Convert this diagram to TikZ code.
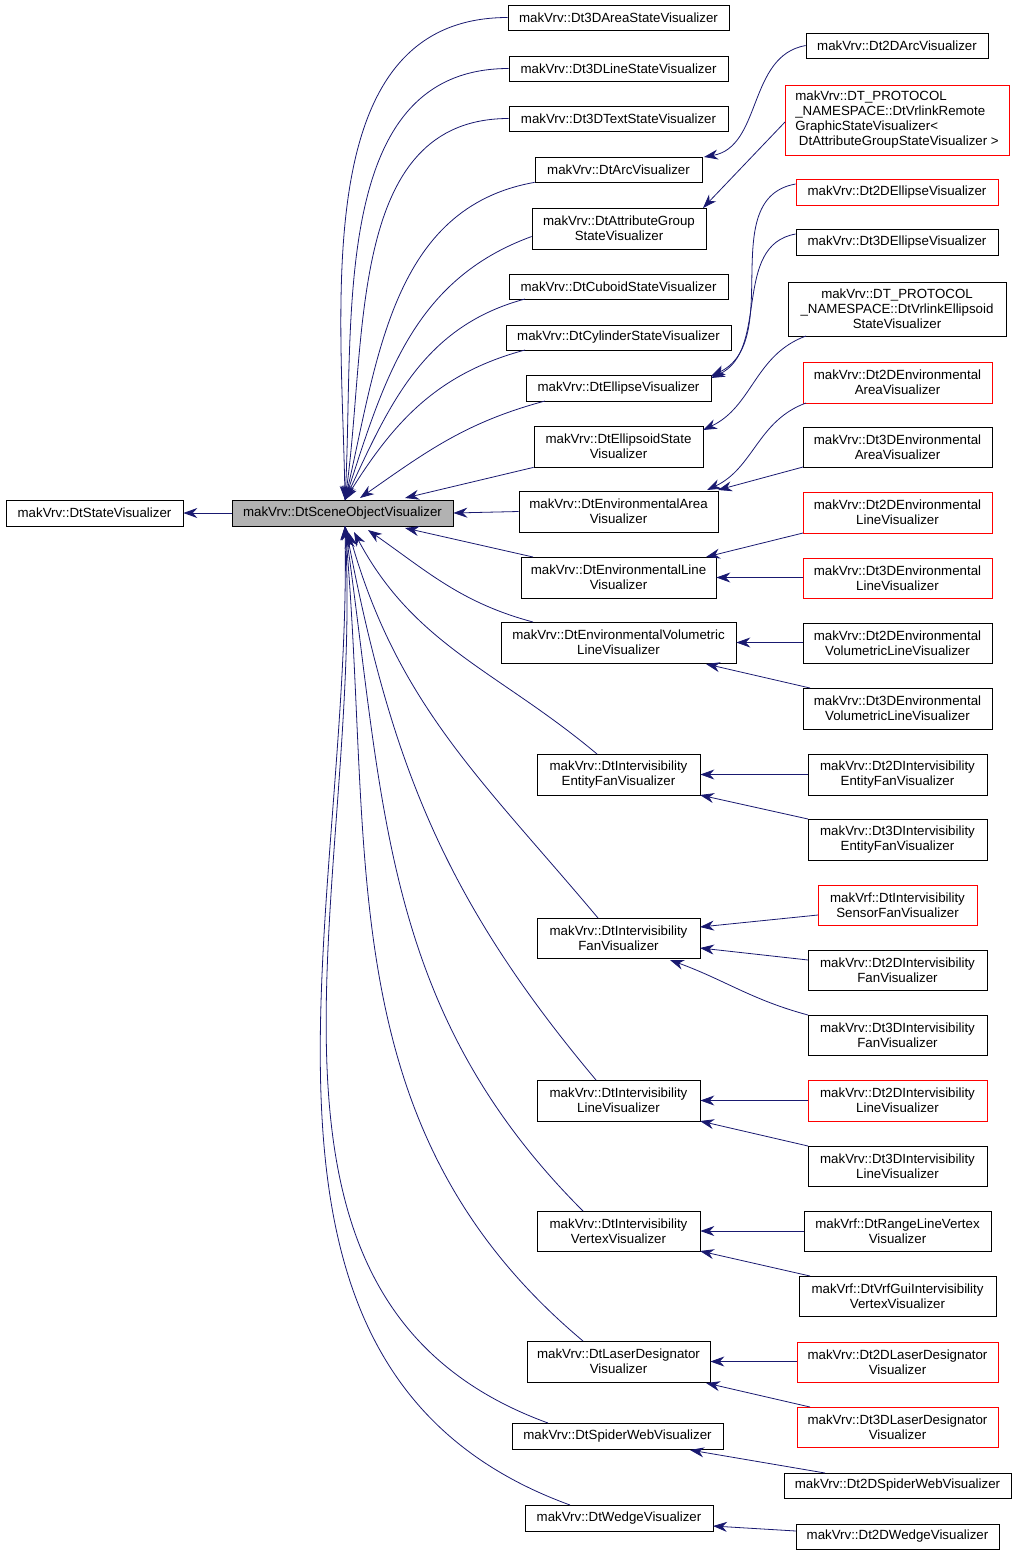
\documentclass[tikz,border=0pt]{standalone}
\usepackage{fontspec}
\setmainfont{Liberation Sans}
\usetikzlibrary{arrows.meta}
\definecolor{edgeblue}{HTML}{191970}
\tikzset{
  cls/.style={draw=black,line width=0.7pt,align=center,inner sep=0pt,font=\fontsize{13.3}{14.8}\selectfont},
  edge/.style={draw=edgeblue,line width=0.8pt,{Stealth[length=14pt,width=10pt]}-}
}
% box from (x1,y1) to (x2,y2) in pixels
\newcommand\cls[7][black]{\node[cls,draw=#1,minimum width={(#5-#3)*1pt},minimum height={(#6-#4)*1pt}] (#2) at ({(#3+#5)/2},{(#4+#6)/2}) {#7};}
\begin{document}
\begin{tikzpicture}[x=1pt,y=-1pt]
\useasboundingbox (0,0) rectangle (1016,1556);
\cls{state}{6}{500}{183}{526}{makVrv::DtStateVisualizer}
\node[cls,fill=black!30,minimum width=221pt,minimum height=26pt] (scene) at (342.5,513) {makVrv::DtSceneObjectVisualizer};
% middle column
\cls{m1}{508}{5}{729}{30}{makVrv::Dt3DAreaStateVisualizer}
\cls{m2}{509}{56}{728}{81}{makVrv::Dt3DLineStateVisualizer}
\cls{m3}{509}{106}{728}{131}{makVrv::Dt3DTextStateVisualizer}
\cls{m4}{535}{157}{702}{182}{makVrv::DtArcVisualizer}
\cls{m5}{532}{208}{706}{249}{makVrv::DtAttributeGroup\\StateVisualizer}
\cls{m6}{509}{274}{728}{299}{makVrv::DtCuboidStateVisualizer}
\cls{m7}{506}{325}{731}{350}{makVrv::DtCylinderStateVisualizer}
\cls{m8}{526}{375}{711}{401}{makVrv::DtEllipseVisualizer}
\cls{m9}{534}{426}{703}{467}{makVrv::DtEllipsoidState\\Visualizer}
\cls{m10}{519}{491}{718}{532}{makVrv::DtEnvironmentalArea\\Visualizer}
\cls{m11}{521}{557}{716}{598}{makVrv::DtEnvironmentalLine\\Visualizer}
\cls{m12}{501}{622}{736}{663}{makVrv::DtEnvironmentalVolumetric\\LineVisualizer}
\cls{m13}{537}{754}{700}{795}{makVrv::DtIntervisibility\\EntityFanVisualizer}
\cls{m14}{537}{918}{700}{958}{makVrv::DtIntervisibility\\FanVisualizer}
\cls{m15}{537}{1080}{700}{1121}{makVrv::DtIntervisibility\\LineVisualizer}
\cls{m16}{537}{1211}{700}{1251}{makVrv::DtIntervisibility\\VertexVisualizer}
\cls{m17}{527}{1341}{710}{1382}{makVrv::DtLaserDesignator\\Visualizer}
\cls{m18}{512}{1423}{723}{1449}{makVrv::DtSpiderWebVisualizer}
\cls{m19}{525}{1505}{713}{1531}{makVrv::DtWedgeVisualizer}
% right column
\cls{r1}{806}{33}{988}{58}{makVrv::Dt2DArcVisualizer}
\cls[red]{r2}{785}{85}{1009}{155}{\begin{tabular}{@{}l@{}}makVrv::DT\_PROTOCOL\\\_NAMESPACE::DtVrlinkRemote\\GraphicStateVisualizer<\\\ DtAttributeGroupStateVisualizer >\end{tabular}}
\cls[red]{r3}{796}{179}{998}{205}{makVrv::Dt2DEllipseVisualizer}
\cls{r4}{796}{229}{998}{255}{makVrv::Dt3DEllipseVisualizer}
\cls{r5}{788}{282}{1006}{336}{makVrv::DT\_PROTOCOL\\\_NAMESPACE::DtVrlinkEllipsoid\\StateVisualizer}
\cls[red]{r6}{803}{362}{992}{403}{makVrv::Dt2DEnvironmental\\AreaVisualizer}
\cls{r7}{803}{427}{992}{467}{makVrv::Dt3DEnvironmental\\AreaVisualizer}
\cls[red]{r8}{803}{492}{992}{533}{makVrv::Dt2DEnvironmental\\LineVisualizer}
\cls[red]{r9}{803}{558}{992}{598}{makVrv::Dt3DEnvironmental\\LineVisualizer}
\cls{r10}{803}{623}{992}{663}{makVrv::Dt2DEnvironmental\\VolumetricLineVisualizer}
\cls{r11}{803}{688}{992}{729}{makVrv::Dt3DEnvironmental\\VolumetricLineVisualizer}
\cls{r12}{808}{754}{987}{795}{makVrv::Dt2DIntervisibility\\EntityFanVisualizer}
\cls{r13}{808}{819}{987}{860}{makVrv::Dt3DIntervisibility\\EntityFanVisualizer}
\cls[red]{r14}{818}{885}{977}{925}{makVrf::DtIntervisibility\\SensorFanVisualizer}
\cls{r15}{808}{950}{987}{990}{makVrv::Dt2DIntervisibility\\FanVisualizer}
\cls{r16}{808}{1015}{987}{1055}{makVrv::Dt3DIntervisibility\\FanVisualizer}
\cls[red]{r17}{808}{1080}{987}{1121}{makVrv::Dt2DIntervisibility\\LineVisualizer}
\cls{r18}{808}{1146}{987}{1186}{makVrv::Dt3DIntervisibility\\LineVisualizer}
\cls{r19}{804}{1211}{991}{1251}{makVrf::DtRangeLineVertex\\Visualizer}
\cls{r20}{799}{1276}{996}{1316}{makVrf::DtVrfGuiIntervisibility\\VertexVisualizer}
\cls[red]{r21}{797}{1342}{998}{1382}{makVrv::Dt2DLaserDesignator\\Visualizer}
\cls[red]{r22}{797}{1407}{998}{1447}{makVrv::Dt3DLaserDesignator\\Visualizer}
\cls{r23}{784}{1473}{1011}{1498}{makVrv::Dt2DSpiderWebVisualizer}
\cls{r24}{796}{1524}{999}{1549}{makVrv::Dt2DWedgeVisualizer}
% attach points on the scene box
\coordinate (st) at (345,500);
\coordinate (sb) at (345,526);
\draw[edge] (state.east) -- (scene.west);
\draw[edge] (st) to[out=91,in=180] (m1.west);
\draw[edge] (st) to[out=87,in=180] (m2.west);
\draw[edge] (st) to[out=82,in=180] (m3.west);
\draw[edge] (st) to[out=77,in=190] (m4.south west);
\draw[edge] (st) to[out=72,in=200] ([yshift=-8]m5.west);
\draw[edge] (st) to[out=65,in=195] (525,299);
\draw[edge] (st) to[out=58,in=195] (525,350);
\draw[edge] (360,498) to[out=35,in=195] (545,401);
\draw[edge] (405,498) -- (m9.south west);
\draw[edge] (scene.east) -- (m10.west);
\draw[edge] (405,528) -- (533,557);
\draw[edge] (368,530) to[out=-35,in=165] (533,622);
\draw[edge] (354,532) to[out=-62,in=140] (597,754);
\draw[edge] (349,533) to[out=-74,in=130] (598,918);
\draw[edge] (347,534) to[out=-79,in=130] (596,1080);
\draw[edge] (sb) to[out=-82,in=135] (583,1211);
\draw[edge] (sb) to[out=-85,in=140] (583,1341);
\draw[edge] (sb) to[out=-87,in=160] (548,1423);
\draw[edge] (sb) to[out=-89,in=160] (570,1505);
% right edges
\draw[edge] (704,157) to[out=10,in=190] (r1.west);
\draw[edge] (703,208) -- (785,122);
\draw[edge] (711,376) to[out=25,in=190] ([yshift=8]r3.west);
\draw[edge] (711,378) to[out=25,in=190] ([yshift=8]r4.west);
\draw[edge] (703,430) to[out=25,in=200] (806,336);
\draw[edge] (707,490) to[out=25,in=200] (806,403);
\draw[edge] (718,490) -- (803,467);
\draw[edge] (706,557) -- (803,533);
\draw[edge] (m11.east) -- (m11.east -| r9.west);
\draw[edge] (m12.east) -- (m12.east -| r10.west);
\draw[edge] (706,664) -- (810,688);
\draw[edge] (m13.east) -- (m13.east -| r12.west);
\draw[edge] (700,795) -- (808,819);
\draw[edge] (700,927) -- (818,915);
\draw[edge] (700,948) -- (808,960);
\draw[edge] (670,960) to[out=-20,in=165] (808,1015);
\draw[edge] (m15.east) -- (m15.east -| r17.west);
\draw[edge] (700,1121) -- (808,1146);
\draw[edge] (m16.east) -- (m16.east -| r19.west);
\draw[edge] (700,1251) -- (810,1276);
\draw[edge] (m17.east) -- (m17.east -| r21.west);
\draw[edge] (706,1383) -- (810,1407);
\draw[edge] (690,1450) -- (825,1473);
\draw[edge] (713,1526) -- (796,1531);
\end{tikzpicture}
\end{document}
